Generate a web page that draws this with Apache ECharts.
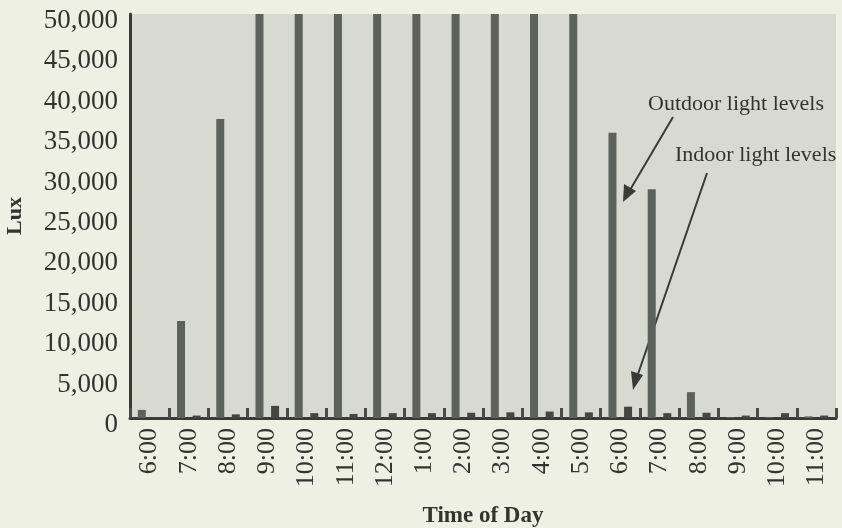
<!DOCTYPE html>
<html>
<head>
<meta charset="utf-8">
<script src="https://cdn.jsdelivr.net/npm/echarts@6/dist/echarts.min.js"></script>
<style>
html,body{margin:0;padding:0;background:#eef0e3;}
#c{width:842px;height:528px;}
</style>
</head>
<body>
<div id="c"></div>
<script>
var categories = ['6:00','7:00','8:00','9:00','10:00','11:00','12:00','1:00','2:00','3:00','4:00','5:00','6:00','7:00','8:00','9:00','10:00','11:00'];
var outdoorLux = [1000, 12000, 37000, 50000, 50000, 50000, 50000, 50000, 50000, 50000, 50000, 50000, 35300, 28300, 3200, 100, 100, 200];
var indoorLux  = [100, 300, 450, 1500, 600, 500, 600, 600, 650, 700, 800, 700, 1400, 600, 650, 300, 600, 300];
var yTicks = [0, 5000, 10000, 15000, 20000, 25000, 30000, 35000, 40000, 45000, 50000];

var FONT = '"Liberation Serif", "Times New Roman", serif';
var chart = echarts.init(document.getElementById('c'), null, {renderer: 'canvas'});
var option = {
  backgroundColor: '#eef0e3',
  animation: false,
  grid: {left: 130, right: 6, top: 14, bottom: 110, show: true, backgroundColor: '#d8dad2', borderWidth: 0,
         containLabel: false, outerBoundsMode: 'none'},
  xAxis: {
    type: 'category',
    data: categories,
    boundaryGap: true,
    axisLine: {show: true, lineStyle: {color: '#3a3b36', width: 3}},
    axisTick: {show: true, inside: true, length: 10, lineStyle: {color: '#4a4b46', width: 3}},
    axisLabel: {rotate: 90, margin: 10, fontFamily: FONT, fontSize: 26, color: '#33342f', interval: 0},
    name: 'Time of Day',
    nameLocation: 'middle',
    nameGap: 87,
    nameTextStyle: {fontFamily: FONT, fontSize: 23, fontWeight: 'bold', color: '#33342f'}
  },
  yAxis: {
    type: 'value',
    min: yTicks[0],
    max: yTicks[yTicks.length - 1],
    interval: yTicks[1] - yTicks[0],
    splitLine: {show: false},
    axisTick: {show: false},
    axisLine: {show: true, lineStyle: {color: '#3a3b36', width: 3}},
    axisLabel: {
      margin: 12,
      formatter: function (v) { return '{v|' + v.toLocaleString('en-US') + '}'; },
      rich: {v: {fontFamily: FONT, fontSize: 27, color: '#33342f', padding: [14, 0, 0, 0]}}
    },
    name: 'Lux',
    nameLocation: 'middle',
    nameRotate: 90,
    nameGap: 104,
    nameTextStyle: {fontFamily: FONT, fontSize: 22, fontWeight: 'bold', color: '#33342f'}
  },
  series: [
    {name: 'Outdoor light levels', type: 'bar', data: outdoorLux, barWidth: 8, barGap: '95%',
     itemStyle: {color: '#5e605a'}},
    {name: 'Indoor light levels', type: 'bar', data: indoorLux, barWidth: 8,
     itemStyle: {color: '#45463f'}}
  ],
  graphic: [
    {type: 'text', left: 648, top: 93, style: {text: 'Outdoor light levels', fontFamily: FONT, fontSize: 22, fill: '#33342f'}},
    {type: 'text', left: 675, top: 144, style: {text: 'Indoor light levels', fontFamily: FONT, fontSize: 22, fill: '#33342f'}},
    {type: 'line', shape: {x1: 673, y1: 117, x2: 630, y2: 190}, style: {stroke: '#3a3b36', lineWidth: 2}},
    {type: 'polygon', shape: {points: [[623, 202], [624, 184], [636, 191]]}, style: {fill: '#3a3b36'}},
    {type: 'line', shape: {x1: 707, y1: 173, x2: 637, y2: 377}, style: {stroke: '#3a3b36', lineWidth: 2}},
    {type: 'polygon', shape: {points: [[633, 390], [631, 371], [643, 375]]}, style: {fill: '#3a3b36'}}
  ]
};
chart.setOption(option);
</script>
</body>
</html>
